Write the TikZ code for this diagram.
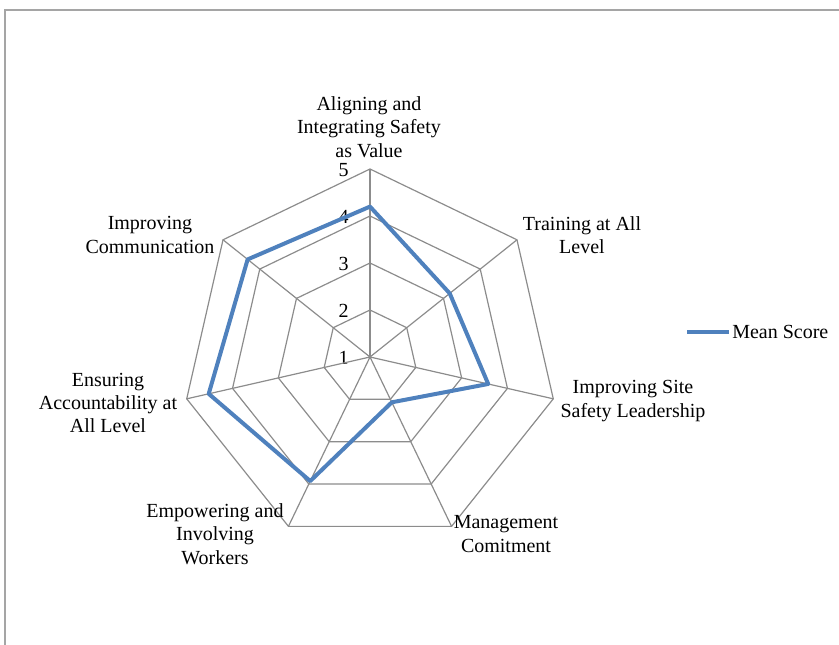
\documentclass[tikz,border=0pt]{standalone}
\usepackage{fontspec}
\setmainfont{Liberation Serif}
\definecolor{gridgray}{RGB}{140,140,140}
\definecolor{framegray}{RGB}{165,165,165}
\definecolor{meanscore}{RGB}{79,129,189}
\usetikzlibrary{positioning}

\begin{document}
\begin{tikzpicture}[x=0.75pt, y=0.75pt,
		grid/.style={draw=gridgray, line width=0.9pt},
		series/.style={draw=meanscore, line width=3pt, line join=round},
		axislabel/.style={align=center, inner sep=0pt, font=\fontsize{15}{17.6}\selectfont},
		ticklabel/.style={anchor=east, inner sep=0pt, font=\fontsize{15}{17.6}\selectfont},
		legend/.style={anchor=west, inner sep=2.25pt, font=\fontsize{15}{17.6}\selectfont}
		]
		\useasboundingbox (-370,-288) rectangle (469,357);
		\draw[framegray, line width=1.5pt] (-365,-288) -- (-365,347) -- (469,347);
		
		% web
		\foreach \k in {2,...,5}{
			\pgfmathsetmacro{\r}{(\k-1)*47}
			\draw[grid] (90:\r) \foreach \i in {1,...,6}{ -- ({90-\i*360/7}:\r)} -- cycle;
			\node[ticklabel] (t\k) at (-21,\r-1) {\k};
		}
		\node[ticklabel] (t1) at (-21,-1) {1};
		\coordinate (o) at (0,0);
		\foreach \i in {0,...,6}{
			\coordinate (v\i) at ({90-\i*360/7}:188);
			\draw[grid] (o) -- (v\i);
		}
		
		% mean score
		\foreach \v [count=\i from 0] in {4.20,3.17,3.58,2.07,3.93,4.52,4.33}{
			\coordinate (p\i) at ({90-\i*360/7}:{(\v-1)*47});
		}
		\draw[series] (p0) -- (p1) -- (p2) -- (p3) -- (p4) -- (p5) -- (p6) -- cycle;
		
		% axis labels
		\node[axislabel] (aligning) at (-1,230) {Aligning and\\Integrating Safety\\as Value};
		\node[axislabel] (training) at (212,122) {Training at All\\Level};
		\node[axislabel] (siteleader) at (263,-44) {Improving Site\\Safety Leadership};
		\node[axislabel] (commit) at (136,-177) {Management\\Comitment};
		\node[axislabel] (empower) at (-155,-177) {Empowering and\\Involving\\Workers};
		\node[axislabel] (account) at (-262,-46) {Ensuring\\Accountability at\\All Level};
		\node[axislabel] (communic) at (-220,122) {Improving\\Communication};
		
		% legend
		\node[legend] (lg) at (359,25) {Mean Score};
		\coordinate[left=42 of lg.west] (lgstart);
		\draw[series] (lgstart) -- (lg.west);
		
	\end{tikzpicture}
\end{document}
